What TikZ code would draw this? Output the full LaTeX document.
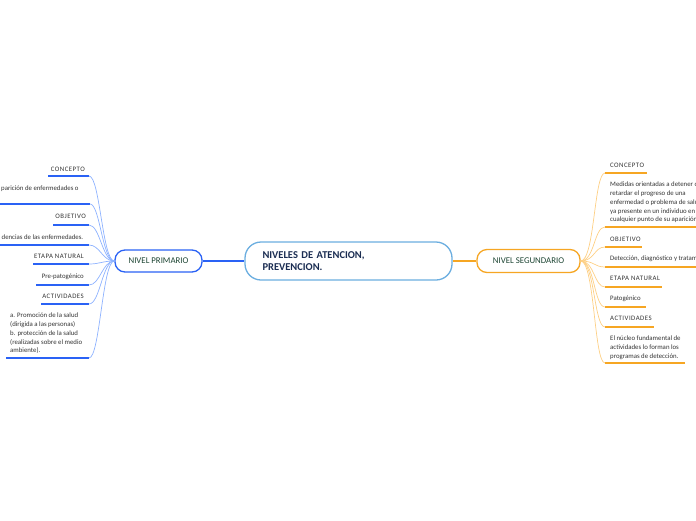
\documentclass[tikz,border=0pt]{standalone}
\usepackage{fontspec}
\setmainfont{Carlito}
\usepackage{tikz}
\usepackage{xcolor}

\definecolor{primblue}{HTML}{2A62F5}
\definecolor{primline}{HTML}{8DB2FF}
\definecolor{segorange}{HTML}{F6A623}
\definecolor{segline}{HTML}{FDCF84}
\definecolor{mainborder}{HTML}{6BAEE0}
\definecolor{titletext}{HTML}{1B2D52}
\definecolor{niveltext}{HTML}{1E4634}
\definecolor{itemtext}{HTML}{333333}

\tikzset{
  mainbox/.style={draw=mainborder, line width=1.3pt, fill=white, rounded corners=16pt,
    minimum width=207pt, minimum height=38pt, text width=172pt, inner xsep=17pt,
    align=left, font=\fontsize{10.5}{12.7}\selectfont\bfseries, text=titletext},
  primbox/.style={draw=primblue, line width=1.3pt, fill=white, rounded corners=10pt,
    minimum width=87pt, minimum height=22pt, font=\fontsize{8.8}{10}\selectfont, text=niveltext},
  segbox/.style={draw=segorange, line width=1.3pt, fill=white, rounded corners=10pt,
    minimum width=103pt, minimum height=23pt, font=\fontsize{8.8}{10}\selectfont, text=niveltext},
  item/.style={inner sep=0pt, align=left, font=\fontsize{6.8}{8.7}\selectfont, text=itemtext},
  head/.style={inner sep=0pt, font=\fontsize{6.8}{8.7}\selectfont\addfontfeatures{LetterSpace=7}, text=itemtext},
  primul/.style={draw=primblue, line width=1.9pt},
  segul/.style={draw=segorange, line width=1.9pt},
  primlink/.style={draw=primline, line width=0.7pt},
  seglink/.style={draw=segline, line width=0.7pt}
}

\begin{document}
\begin{tikzpicture}[x=1pt, y=-1pt]
  \useasboundingbox (0,0) rectangle (696,520);
  \clip (0,0) rectangle (696,520);

  % Central topic
  \node[mainbox] (main) at (348.5,261) {NIVELES DE ATENCION,\\PREVENCION.};

  % Nivel primario
  \node[primbox] (prim) at (158.5,261) {NIVEL PRIMARIO};
  \draw[primblue, line width=1.1pt] (prim.east) -- (main.west);

  % Nivel segundario
  \node[segbox] (seg) at (528.5,261) {NIVEL SEGUNDARIO};
  \draw[segorange, line width=1.1pt] (main.east) -- (seg.west);

  % Primario: concepto
  \node[head, anchor=east] (pconc) at (85,169) {CONCEPTO};
  \coordinate (pconcA) at (48,176); \coordinate (pconcB) at (89,176);
  \draw[primul] (pconcA) -- (pconcB);
  \draw[primlink] (pconcB) .. controls +(11,0) and +(-12,0) .. (prim.west);

  \node[item, anchor=west] (pconct) at (1,189) {parición de enfermedades o};
  \coordinate (pconctA) at (0,204); \coordinate (pconctB) at (90,204);
  \draw[primul] (pconctA) -- (pconctB);
  \draw[primlink] (pconctB) .. controls +(10,0) and +(-12,0) .. (prim.west);

  % Primario: objetivo
  \node[head, anchor=east] (pobj) at (86,216.7) {OBJETIVO};
  \coordinate (pobjA) at (53,225); \coordinate (pobjB) at (89,225);
  \draw[primul] (pobjA) -- (pobjB);
  \draw[primlink] (pobjB) .. controls +(11,0) and +(-12,0) .. (prim.west);

  \node[item, anchor=west] (pobjt) at (1.5,237.5) {dencias de las enfermedades.};
  \coordinate (pobjtA) at (0,245); \coordinate (pobjtB) at (89,245);
  \draw[primul] (pobjtA) -- (pobjtB);
  \draw[primlink] (pobjtB) .. controls +(11,0) and +(-12,0) .. (prim.west);

  % Primario: etapa natural
  \node[head, anchor=east] (petapa) at (84,256.7) {ETAPA NATURAL};
  \coordinate (petapaA) at (33,264); \coordinate (petapaB) at (89,264);
  \draw[primul] (petapaA) -- (petapaB);
  \draw[primlink] (petapaB) .. controls +(11,0) and +(-12,0) .. (prim.west);

  \node[item, anchor=east] (petapat) at (84,276.7) {Pre-patogénico};
  \coordinate (petapatA) at (36,285); \coordinate (petapatB) at (89,285);
  \draw[primul] (petapatA) -- (petapatB);
  \draw[primlink] (petapatB) .. controls +(11,0) and +(-12,0) .. (prim.west);

  % Primario: actividades
  \node[head, anchor=east] (pact) at (84,296.7) {ACTIVIDADES};
  \coordinate (pactA) at (41,304); \coordinate (pactB) at (89,304);
  \draw[primul] (pactA) -- (pactB);
  \draw[primlink] (pactB) .. controls +(11,0) and +(-12,0) .. (prim.west);

  \node[item, anchor=north west] (pactt) at (10,313) {a. Promoción de la salud\\(dirigida a las personas)\\b. protección de la salud\\(realizadas sobre el medio\\ambiente).};
  \coordinate (pacttA) at (6,358); \coordinate (pacttB) at (89,358);
  \draw[primul] (pacttA) -- (pacttB);
  \draw[primlink] (pacttB) .. controls +(11,0) and +(-12,0) .. (prim.west);

  % Segundario: concepto
  \node[head, anchor=west] (sconc) at (610,165) {CONCEPTO};
  \coordinate (sconcA) at (605,173); \coordinate (sconcB) at (647,173);
  \draw[segul] (sconcA) -- (sconcB);
  \draw[seglink] (seg.east) .. controls +(14,0) and +(-11,0) .. (sconcA);

  \node[item, anchor=north west] (sconct) at (610,182) {Medidas orientadas a detener o\\retardar el progreso de una\\enfermedad o problema de salud\\ya presente en un individuo en\\cualquier punto de su aparición};
  \coordinate (sconctA) at (605,227); \coordinate (sconctB) at (700,227);
  \draw[segul] (sconctA) -- (sconctB);
  \draw[seglink] (seg.east) .. controls +(14,0) and +(-11,0) .. (sconctA);

  % Segundario: objetivo
  \node[head, anchor=west] (sobj) at (610,239) {OBJETIVO};
  \coordinate (sobjA) at (605,247); \coordinate (sobjB) at (642,247);
  \draw[segul] (sobjA) -- (sobjB);
  \draw[seglink] (seg.east) .. controls +(14,0) and +(-11,0) .. (sobjA);

  \node[item, anchor=west] (sobjt) at (610,258.3) {Detección, diagnóstico y tratamiento};
  \coordinate (sobjtA) at (605,267); \coordinate (sobjtB) at (700,267);
  \draw[segul] (sobjtA) -- (sobjtB);
  \draw[seglink] (seg.east) .. controls +(14,0) and +(-11,0) .. (sobjtA);

  % Segundario: etapa natural
  \node[head, anchor=west] (setapa) at (610,278.7) {ETAPA NATURAL};
  \coordinate (setapaA) at (605,287); \coordinate (setapaB) at (662,287);
  \draw[segul] (setapaA) -- (setapaB);
  \draw[seglink] (seg.east) .. controls +(14,0) and +(-11,0) .. (setapaA);

  \node[item, anchor=west] (setapat) at (610,298.7) {Patogénico};
  \coordinate (setapatA) at (605,307); \coordinate (setapatB) at (646,307);
  \draw[segul] (setapatA) -- (setapatB);
  \draw[seglink] (seg.east) .. controls +(14,0) and +(-11,0) .. (setapatA);

  % Segundario: actividades
  \node[head, anchor=west] (sact) at (610,318.3) {ACTIVIDADES};
  \coordinate (sactA) at (605,327); \coordinate (sactB) at (654,327);
  \draw[segul] (sactA) -- (sactB);
  \draw[seglink] (seg.east) .. controls +(14,0) and +(-11,0) .. (sactA);

  \node[item, anchor=north west] (sactt) at (610,336) {El núcleo fundamental de\\actividades lo forman los\\programas de detección.};
  \coordinate (sacttA) at (605,363); \coordinate (sacttB) at (685,363);
  \draw[segul] (sacttA) -- (sacttB);
  \draw[seglink] (seg.east) .. controls +(14,0) and +(-11,0) .. (sacttA);
\end{tikzpicture}
\end{document}
